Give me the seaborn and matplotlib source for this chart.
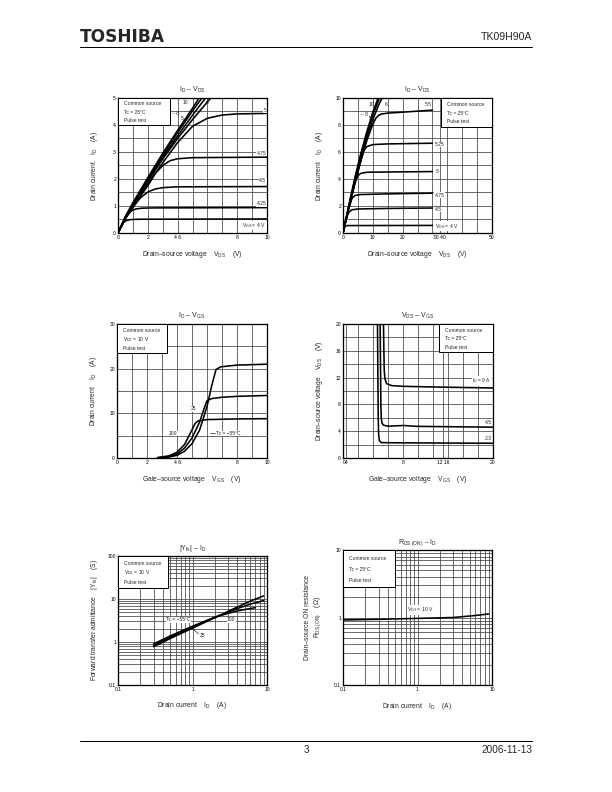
import numpy as np
import pandas as pd
import seaborn as sns
import matplotlib
matplotlib.use("Agg")
import matplotlib.pyplot as plt
from matplotlib.ticker import MultipleLocator, LogLocator, NullFormatter, FixedLocator
from matplotlib.patches import Rectangle

sns.set_style("white")
plt.rcParams['font.family'] = ['Liberation Sans', 'DejaVu Sans']
plt.rcParams['mathtext.fontset'] = 'custom'
plt.rcParams['mathtext.rm'] = 'Liberation Sans'
plt.rcParams['mathtext.it'] = 'Liberation Sans'

# ---------------- Data: ID - VDS (0-10 V) ----------------
p1_vgs_labels = ["10", "8", "6", "5.5", "5", "4.75", "4.5", "4.25", "4"]
p1_x_10 = [0, 0.5, 1, 2, 3, 4, 5, 5.5]
p1_y_10 = [0, 0.62, 1.12, 2.05, 2.95, 3.8, 4.62, 5.05]
p1_x_8 = [0, 0.5, 1, 2, 3, 4, 5, 5.7]
p1_y_8 = [0, 0.6, 1.08, 2.0, 2.88, 3.72, 4.52, 5.05]
p1_x_6 = [0, 0.5, 1, 2, 3, 4, 5, 5.9]
p1_y_6 = [0, 0.58, 1.05, 1.96, 2.8, 3.6, 4.36, 5.02]
p1_x_55 = [0, 0.5, 1, 2, 3, 4, 5, 6.3]
p1_y_55 = [0, 0.57, 1.03, 1.92, 2.74, 3.5, 4.2, 5.05]
p1_x_5 = [0, 0.5, 1, 2, 3, 4, 5, 6, 7, 8, 10]
p1_y_5 = [0, 0.55, 0.99, 1.83, 2.6, 3.35, 3.95, 4.25, 4.37, 4.41, 4.43]
p1_x_475 = [0, 0.5, 1, 2, 2.5, 3, 3.5, 4, 5, 10]
p1_y_475 = [0, 0.55, 0.97, 1.75, 2.2, 2.5, 2.68, 2.75, 2.79, 2.81]
p1_x_45 = [0, 0.5, 1, 1.5, 2, 2.5, 3, 4, 10]
p1_y_45 = [0, 0.53, 0.95, 1.3, 1.52, 1.63, 1.68, 1.71, 1.72]
p1_x_425 = [0, 0.3, 0.6, 0.9, 1.2, 1.6, 2.5, 10]
p1_y_425 = [0, 0.36, 0.65, 0.82, 0.89, 0.92, 0.93, 0.94]
p1_x_4 = [0, 0.2, 0.4, 0.6, 0.9, 1.5, 10]
p1_y_4 = [0, 0.25, 0.4, 0.47, 0.5, 0.51, 0.52]

# ---------------- Data: ID - VDS (0-50 V) ----------------
p2_x_10 = [0, 2, 4, 6, 8, 10, 12.3]
p2_y_10 = [0, 2.1, 4.1, 5.9, 7.5, 8.95, 10.3]
p2_x_8 = [0, 2, 4, 6, 8, 10, 12.8]
p2_y_8 = [0, 2.05, 4.0, 5.8, 7.35, 8.75, 10.3]
p2_x_6 = [0, 2, 4, 6, 8, 10, 12, 13.6]
p2_y_6 = [0, 2.0, 3.9, 5.6, 7.1, 8.4, 9.5, 10.2]
p2_x_55 = [0, 2, 4, 6, 8, 10, 11, 12, 13, 15, 20, 30]
p2_y_55 = [0, 1.95, 3.75, 5.35, 6.85, 8.05, 8.5, 8.72, 8.82, 8.88, 8.95, 9.1]
p2_x_525 = [0, 2, 4, 5, 6, 7, 8, 10, 15, 30]
p2_y_525 = [0, 1.9, 3.65, 4.5, 5.4, 6.1, 6.4, 6.55, 6.6, 6.65]
p2_x_5 = [0, 1, 2, 3, 4, 5, 6, 8, 15, 30]
p2_y_5 = [0, 1.0, 1.9, 2.85, 3.75, 4.25, 4.42, 4.5, 4.52, 4.55]
p2_x_475 = [0, 1, 2, 3, 4, 6, 15, 30]
p2_y_475 = [0, 1.0, 1.85, 2.55, 2.78, 2.85, 2.9, 2.95]
p2_x_45 = [0, 1, 1.5, 2, 3, 5, 15, 30]
p2_y_45 = [0, 0.95, 1.3, 1.55, 1.72, 1.78, 1.82, 1.85]
p2_x_4 = [0, 0.4, 0.8, 1.5, 30]
p2_y_4 = [0, 0.38, 0.52, 0.55, 0.56]

# ---------------- Data: ID - VGS ----------------
p3_x_m55 = [3.0, 3.5, 4.0, 4.5, 5.0, 5.5, 6.0, 6.3, 6.6, 6.9, 8.0, 10.0]
p3_y_m55 = [0.1, 0.25, 0.6, 1.5, 3.2, 6.2, 11.5, 16.0, 19.8, 20.4, 20.8, 21.0]
p3_x_25 = [2.8, 3.5, 4.0, 4.5, 5.0, 5.5, 5.8, 6.0, 6.3, 7.0, 8.0, 10.0]
p3_y_25 = [0.1, 0.35, 0.9, 2.2, 4.5, 8.0, 11.0, 12.8, 13.3, 13.6, 13.8, 14.0]
p3_x_100 = [2.7, 3.5, 4.0, 4.5, 5.0, 5.2, 5.4, 6.0, 8.0, 10.0]
p3_y_100 = [0.1, 0.5, 1.3, 3.0, 6.3, 7.7, 8.3, 8.6, 8.75, 8.8]

# ---------------- Data: VDS - VGS ----------------
p4_x_9 = [5.4, 5.45, 5.5, 5.6, 5.8, 6.5, 8.0, 12.0, 20.0]
p4_y_9 = [20.0, 16.0, 13.0, 11.8, 11.1, 10.8, 10.7, 10.6, 10.45]
p4_x_45 = [4.95, 5.0, 5.05, 5.1, 5.2, 5.4, 6.0, 8.0, 10.0, 20.0]
p4_y_45 = [20.0, 14.0, 8.0, 6.0, 5.2, 4.9, 4.75, 4.85, 4.72, 4.6]
p4_x_23 = [4.6, 4.65, 4.7, 4.75, 4.85, 5.1, 7.0, 20.0]
p4_y_23 = [20.0, 12.0, 6.0, 3.5, 2.6, 2.3, 2.27, 2.2]

# ---------------- Data: |Yfs| - ID ----------------
p5_x_m55 = [0.3, 0.5, 1, 2, 4, 6, 9]
p5_y_m55 = [0.78, 1.2, 2.1, 3.7, 6.5, 9.0, 11.8]
p5_x_25 = [0.3, 0.5, 1, 2, 4, 6, 9]
p5_y_25 = [0.82, 1.28, 2.2, 3.7, 6.0, 7.6, 9.2]
p5_x_100 = [0.3, 0.5, 1, 2, 4, 7]
p5_y_100 = [0.9, 1.38, 2.33, 3.8, 5.3, 6.3]

# ---------------- Data: RDS(ON) - ID ----------------
p6_x = [0.1, 0.3, 1, 3, 6, 9]
p6_y = [0.92, 0.94, 0.97, 1.0, 1.07, 1.13]

FIG_W, FIG_H = 612, 792
fig = plt.figure(figsize=(8.5, 11), dpi=72)

GRID_C = '#4a4a4a'
TICK_FS = 5
LAB_FS = 6.8


def make_ax(x0, x1, ytop, ybot):
    ax = fig.add_axes([x0 / FIG_W, 1 - ybot / FIG_H, (x1 - x0) / FIG_W, (ybot - ytop) / FIG_H])
    for s in ax.spines.values():
        s.set_color('black')
        s.set_linewidth(1.3)
        s.set_visible(True)
    ax.tick_params(which='both', length=0, labelsize=TICK_FS, pad=2, colors='black')
    ax.set_facecolor('white')
    return ax


def curve(ax, x, y):
    df = pd.DataFrame({'x': x, 'y': y})
    sns.lineplot(data=df, x='x', y='y', ax=ax, color='black', linewidth=1.6,
                 sort=False, estimator=None, zorder=4)


def lin_grid(ax, xstep, ystep):
    ax.xaxis.set_minor_locator(MultipleLocator(xstep))
    ax.yaxis.set_minor_locator(MultipleLocator(ystep))
    ax.grid(which='both', color=GRID_C, linewidth=0.8)
    ax.set_axisbelow(True)


def log_grid(ax):
    ax.set_xscale('log')
    ax.set_yscale('log')
    for a in (ax.xaxis, ax.yaxis):
        a.set_minor_locator(LogLocator(base=10, subs=np.arange(2, 10)))
        a.set_minor_formatter(NullFormatter())
    ax.grid(which='both', color=GRID_C, linewidth=0.8)
    ax.set_axisbelow(True)


def info_box(ax, fx0, fx1, fy0, lines):
    ax.add_patch(Rectangle((fx0, fy0), fx1 - fx0, 1 - fy0, transform=ax.transAxes,
                           facecolor='white', edgecolor='black', linewidth=1.0, zorder=6, clip_on=False))
    h = 1 - fy0
    for i, t in enumerate(lines):
        ax.text(fx0 + 0.04, 1 - h * (0.22 + 0.3 * i), t, transform=ax.transAxes, fontsize=5,
                va='center', ha='left', zorder=7)


def lab(ax, x, y, t, ha='left'):
    ax.text(x, y, t, fontsize=5, ha=ha, va='center', zorder=5,
            bbox=dict(facecolor='white', edgecolor='none', pad=0.3))


def labels(ax, title, xlabel, ylabel, ylab_off=-0.12, xlab_off=-0.12):
    ax.set_title(title, fontsize=7, pad=6)
    ax.set_xlabel(xlabel, fontsize=LAB_FS)
    ax.set_ylabel(ylabel, fontsize=LAB_FS)
    ax.xaxis.set_label_coords(0.5, xlab_off)
    ax.yaxis.set_label_coords(ylab_off, 0.5)


VDS_LABEL = "Drain\u2013source voltage    V$_{\\rm DS}$    (V)"
VGS_LABEL = "Gate\u2013source voltage    V$_{\\rm GS}$    (V)"
ID_LABEL = "Drain current    I$_{\\rm D}$    (A)"

# ---------- Plot 1 ----------
ax1 = make_ax(118, 267, 98, 233)
lin_grid(ax1, 1, 0.5)
for x, y in [(p1_x_10, p1_y_10), (p1_x_8, p1_y_8), (p1_x_6, p1_y_6), (p1_x_55, p1_y_55),
             (p1_x_5, p1_y_5), (p1_x_475, p1_y_475), (p1_x_45, p1_y_45),
             (p1_x_425, p1_y_425), (p1_x_4, p1_y_4)]:
    curve(ax1, x, y)
ax1.set_xlim(0, 10)
ax1.set_ylim(0, 5)
ax1.xaxis.set_major_locator(FixedLocator([0, 2, 4, 8, 10]))
ax1.set_xticklabels(['0', '2', '4 6', '8', '10'])
ax1.set_yticks([0, 1, 2, 3, 4, 5])
labels(ax1, "I$_{\\rm D}$ \u2013 V$_{\\rm DS}$", VDS_LABEL, ID_LABEL)
info_box(ax1, 0, 0.35, 0.8, ["Common source", "Tc = 25\u00b0C", "Pulse test"])
ax1.text(4.55, 4.82, "10", fontsize=5, ha='center', va='center', zorder=5)
ax1.text(5.95, 4.82, "6", fontsize=5, ha='center', va='center', zorder=5)
ax1.text(3.85, 4.44, "\u2013 8", fontsize=5, ha='center', va='center', zorder=5)
ax1.text(4.3, 4.25, "5", fontsize=5, ha='center', va='center', zorder=5)
lab(ax1, 9.95, 4.55, "5", ha='right')
lab(ax1, 9.95, 2.95, "4.75", ha='right')
lab(ax1, 9.95, 1.93, "4.5", ha='right')
lab(ax1, 9.95, 1.08, "4.25", ha='right')
lab(ax1, 9.95, 0.27, "V$_{\\rm GS}$ = 4 V", ha='right')

# ---------- Plot 2 ----------
ax2 = make_ax(343, 492, 98, 233)
lin_grid(ax2, 5, 1)
for x, y in [(p2_x_10, p2_y_10), (p2_x_8, p2_y_8), (p2_x_6, p2_y_6), (p2_x_55, p2_y_55),
             (p2_x_525, p2_y_525), (p2_x_5, p2_y_5), (p2_x_475, p2_y_475),
             (p2_x_45, p2_y_45), (p2_x_4, p2_y_4)]:
    curve(ax2, x, y)
ax2.set_xlim(0, 50)
ax2.set_ylim(0, 10)
ax2.xaxis.set_major_locator(FixedLocator([0, 10, 20, 32.5, 50]))
ax2.set_xticklabels(['0', '10', '20', '30 40', '50'])
ax2.set_yticks([0, 2, 4, 6, 8, 10])
labels(ax2, "I$_{\\rm D}$ \u2013 V$_{\\rm DS}$", VDS_LABEL, ID_LABEL)
info_box(ax2, 0.66, 1.0, 0.785, ["Common source", "Tc = 25\u00b0C", "Pulse test"])
ax2.text(9.4, 9.55, "10", fontsize=5, ha='center', va='center', zorder=5)
ax2.text(14.6, 9.55, "6", fontsize=5, ha='center', va='center', zorder=5)
ax2.text(7.3, 8.8, "\u2013 8", fontsize=5, ha='center', va='center', zorder=5)
ax2.text(9.0, 8.5, "5", fontsize=5, ha='center', va='center', zorder=5)
ax2.text(28.5, 9.55, "5.5", fontsize=5, ha='center', va='center', zorder=5)
lab(ax2, 30.8, 6.55, "5.25")
lab(ax2, 31.0, 4.55, "5")
lab(ax2, 30.8, 2.8, "4.75")
lab(ax2, 30.8, 1.75, "4.5")
lab(ax2, 30.8, 0.5, "V$_{\\rm GS}$ = 4 V")

# ---------- Plot 3 ----------
ax3 = make_ax(117, 267, 324, 458)
lin_grid(ax3, 1, 5)
for x, y in [(p3_x_m55, p3_y_m55), (p3_x_25, p3_y_25), (p3_x_100, p3_y_100)]:
    curve(ax3, x, y)
ax3.set_xlim(0, 10)
ax3.set_ylim(0, 30)
ax3.xaxis.set_major_locator(FixedLocator([0, 2, 4, 8, 10]))
ax3.set_xticklabels(['0', '2', '4 6', '8', '10'])
ax3.set_yticks([0, 10, 20, 30])
labels(ax3, "I$_{\\rm D}$ \u2013 V$_{\\rm GS}$", VGS_LABEL, ID_LABEL)
info_box(ax3, 0, 0.333, 0.78, ["Common source", "V$_{\\rm DS}$ = 10 V", "Pulse test"])
lab(ax3, 5.1, 11.0, "25", ha='center')
lab(ax3, 3.75, 5.5, "100", ha='center')
ax3.plot([6.2, 6.55], [5.5, 5.5], color='black', lw=0.6, zorder=5)
lab(ax3, 6.6, 5.5, "Tc = \u221255\u00b0C")

# ---------- Plot 4 ----------
ax4 = make_ax(343, 493, 324, 458)
lin_grid(ax4, 2, 2)
for x, y in [(p4_x_9, p4_y_9), (p4_x_45, p4_y_45), (p4_x_23, p4_y_23)]:
    curve(ax4, x, y)
ax4.set_xlim(0, 20)
ax4.set_ylim(0, 20)
ax4.xaxis.set_major_locator(FixedLocator([0.4, 8, 13.3, 20]))
ax4.set_xticklabels(['04', '8', '12 16', '20'])
ax4.set_yticks([0, 4, 8, 12, 16, 20])
labels(ax4, "V$_{\\rm DS}$ \u2013 V$_{\\rm GS}$", VGS_LABEL, VDS_LABEL)
info_box(ax4, 0.64, 1.0, 0.79, ["Common source", "Tc = 25\u00b0C", "Pulse test"])
lab(ax4, 19.8, 11.5, "I$_{\\rm D}$ = 9 A", ha='right')
lab(ax4, 19.8, 5.3, "4.5", ha='right')
lab(ax4, 19.8, 2.9, "2.3", ha='right')

# ---------- Plot 5 ----------
ax5 = make_ax(118, 267, 556, 685)
log_grid(ax5)
for x, y in [(p5_x_m55, p5_y_m55), (p5_x_25, p5_y_25), (p5_x_100, p5_y_100)]:
    curve(ax5, x, y)
ax5.set_xlim(0.1, 10)
ax5.set_ylim(0.1, 100)
ax5.set_xticks([0.1, 1, 10])
ax5.set_xticklabels(['0.1', '1', '10'])
ax5.set_yticks([0.1, 1, 10, 100])
ax5.set_yticklabels(['0.1', '1', '10', '100'])
labels(ax5, "|Y$_{\\rm fs}$| \u2013 I$_{\\rm D}$", "Drain current    I$_{\\rm D}$    (A)",
       "Forward transfer admittance    |Y$_{\\rm fs}$|    (S)")
info_box(ax5, 0, 0.333, 0.75, ["Common source", "V$_{\\rm DS}$ = 10 V", "Pulse test"])
lab(ax5, 0.64, 3.3, "Tc = \u221255\u00b0C", ha='center')
lab(ax5, 3.3, 3.3, "100", ha='center')
ax5.plot([1.0, 1.2], [2.05, 1.55], color='black', lw=0.6, zorder=5)
lab(ax5, 1.36, 1.4, "25", ha='center')

# ---------- Plot 6 ----------
ax6 = make_ax(343, 492, 550, 685)
log_grid(ax6)
curve(ax6, p6_x, p6_y)
ax6.set_xlim(0.1, 10)
ax6.set_ylim(0.1, 10)
ax6.set_xticks([0.1, 1, 10])
ax6.set_xticklabels(['0.1', '1', '10'])
ax6.set_yticks([0.1, 1, 10])
ax6.set_yticklabels(['0.1', '1', '10'])
labels(ax6, "R$_{\\rm DS\\ (ON)}$ \u2013 I$_{\\rm D}$", "Drain current    I$_{\\rm D}$    (A)",
       "Drain\u2013source ON resistance\nR$_{\\rm DS\\ (ON)}$    (\u03a9)", ylab_off=-0.135, xlab_off=-0.115)
info_box(ax6, 0, 0.35, 0.726, ["Common source", "Tc = 25\u00b0C", "Pulse test"])
lab(ax6, 1.1, 1.3, "V$_{\\rm GS}$ = 10 V", ha='center')

# ---------- Header / footer ----------
fig.text(80 / FIG_W, 1 - 37 / FIG_H, "TOSHIBA", fontsize=17, fontweight='heavy',
         family='DejaVu Sans', ha='left', va='center')
fig.text(532 / FIG_W, 1 - 37 / FIG_H, "TK09H90A", fontsize=10.5, ha='right', va='center')
fig.add_artist(plt.Line2D([80 / FIG_W, 532 / FIG_W], [1 - 47 / FIG_H] * 2, color='black', lw=1.0))
fig.add_artist(plt.Line2D([80 / FIG_W, 532 / FIG_W], [1 - 741 / FIG_H] * 2, color='black', lw=1.0))
fig.text(306 / FIG_W, 1 - 750 / FIG_H, "3", fontsize=10, ha='center', va='center')
fig.text(532 / FIG_W, 1 - 750 / FIG_H, "2006-11-13", fontsize=10, ha='right', va='center')

fig.savefig("out.png", dpi=72, facecolor='white')
